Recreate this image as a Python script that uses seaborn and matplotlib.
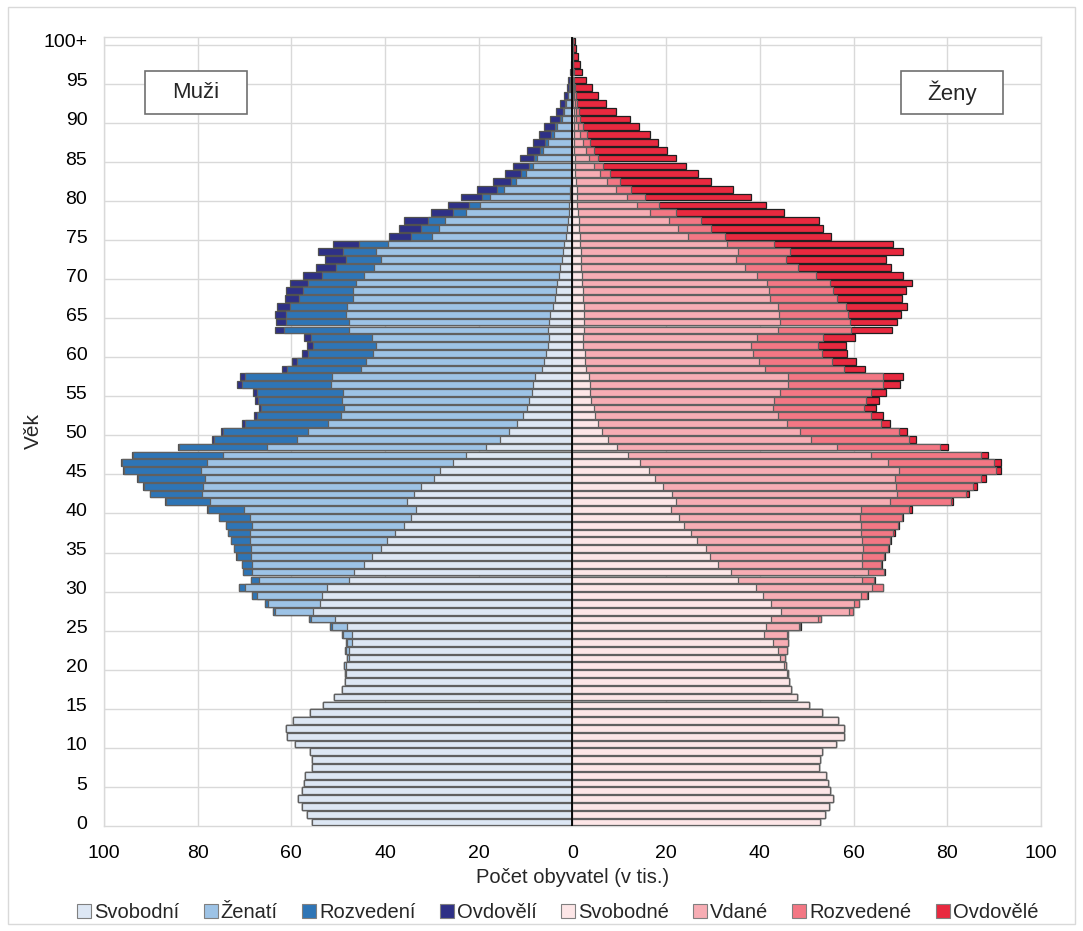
import matplotlib
matplotlib.use("Agg")
import matplotlib.pyplot as plt
from matplotlib.patches import Patch, Rectangle
import seaborn as sns
import numpy as np

sns.set_style("white")
plt.rcParams['font.family'] = ['Liberation Sans', 'DejaVu Sans']

ages = np.arange(101)
age_labels = [str(a) for a in range(0, 100, 5)] + ["100+"]

# muži (v tis.), věk 0..100+
men_svob = [55.7, 56.7, 57.7, 58.5, 57.8, 57.4, 57.0, 55.5, 55.7, 56.0,
            59.2, 60.9, 61.1, 59.7, 56.0, 53.2, 51.0, 49.1, 48.6, 48.4,
            48.4, 47.7, 47.8, 47.0, 47.0, 48.1, 50.7, 55.4, 53.9, 53.4,
            52.5, 47.8, 46.6, 44.5, 42.7, 40.8, 39.5, 37.8, 36.0, 34.4,
            33.5, 35.3, 33.8, 32.3, 29.6, 28.2, 25.5, 22.7, 18.4, 15.4,
            13.5, 11.8, 10.5, 9.7, 9.2, 8.7, 8.4, 8.0, 6.5, 6.0,
            5.6, 5.3, 5.0, 5.2, 5.0, 4.7, 4.2, 3.8, 3.6, 3.3,
            2.8, 2.6, 2.3, 2.1, 1.8, 1.3, 1.1, 0.9, 0.8, 0.7,
            0.6, 0.5, 0.4, 0.3, 0.3, 0.3, 0.25, 0.2, 0.2, 0.15,
            0.15, 0.1, 0.1, 0.05, 0.05, 0.03, 0.02, 0.02, 0.01, 0.01, 0.01]
men_zen = [0] * 18 + [0.05, 0.1,
           0.3, 0.4, 0.6, 1.2, 1.9, 3.3, 5.2, 8.1, 11.0, 14.0,
           17.3, 19.2, 21.7, 23.8, 26.0, 27.9, 29.4, 31.1, 32.5, 34.5,
           36.7, 42.0, 45.2, 46.5, 48.8, 51.0, 52.5, 51.9, 46.9, 43.3,
           42.9, 40.3, 39.0, 39.1, 39.9, 40.3, 43.1, 43.3, 38.6, 38.0,
           37.0, 36.7, 37.8, 42.5, 42.7, 43.6, 43.9, 43.0, 43.2, 43.0,
           41.7, 39.8, 38.6, 39.8, 37.6, 28.7, 27.3, 26.3, 21.9, 19.0,
           16.9, 14.1, 11.6, 9.7, 8.2, 7.2, 6.05, 5.1, 3.8, 3.25,
           2.15, 1.7, 1.2, 0.8, 0.5, 0.35, 0.25, 0.13, 0.07, 0.05, 0.03]
men_rozv = [0] * 21 + [0.05, 0.1, 0.1, 0.2, 0.3, 0.4, 0.5, 0.7, 0.9,
            1.3, 1.7, 2.0, 2.3, 3.0, 3.5, 4.0, 4.6, 5.4, 6.5,
            7.7, 9.5, 11.1, 12.7, 14.3, 16.5, 18.1, 19.1, 18.6, 17.8,
            18.2, 17.9, 17.9, 17.7, 18.0, 18.4, 19.1, 18.6, 15.9, 14.9,
            13.8, 13.4, 13.0, 13.9, 13.4, 12.8, 12.2, 11.6, 10.7, 10.1,
            8.9, 8.0, 7.4, 7.1, 6.2, 4.5, 3.9, 3.6, 2.7, 2.3,
            1.9, 1.5, 1.1, 0.9, 0.8, 0.8, 0.7, 0.6, 0.5, 0.4,
            0.45, 0.3, 0.2, 0.15, 0.1, 0.07, 0.05, 0.03, 0.02, 0.01, 0.01]
men_ovd = [0] * 30 + [0.01, 0.01, 0.02, 0.02, 0.03,
           0.04, 0.05, 0.05, 0.06, 0.07,
           0.1, 0.1, 0.12, 0.15, 0.2, 0.2, 0.3, 0.4, 0.3, 0.4,
           0.5, 0.6, 0.5, 0.5, 0.6, 0.7, 1.0, 1.0, 0.9, 1.0,
           1.3, 1.3, 1.6, 1.9, 2.2, 2.4, 2.7, 3.0, 3.6, 3.9,
           4.1, 4.3, 4.6, 5.3, 5.6, 4.7, 4.7, 5.1, 4.7, 4.5,
           4.5, 4.2, 3.9, 3.6, 3.4, 2.9, 2.8, 2.6, 2.7, 2.2,
           2.0, 1.5, 1.1, 0.8, 0.55, 0.4, 0.28, 0.17, 0.1, 0.08, 0.05]

# ženy (v tis.), věk 0..100+
women_svob = [52.9, 53.9, 54.8, 55.6, 54.9, 54.5, 54.2, 52.7, 52.9, 53.2,
              56.2, 57.9, 58.0, 56.7, 53.2, 50.5, 48.0, 46.6, 46.2, 45.8,
              45.1, 44.3, 43.9, 42.9, 40.9, 41.3, 42.4, 44.6, 42.4, 40.6,
              39.2, 35.3, 33.8, 31.0, 29.4, 28.5, 26.6, 25.2, 23.7, 22.7,
              21.0, 22.0, 21.2, 19.3, 17.7, 16.3, 14.4, 11.8, 9.45, 7.5,
              6.3, 5.5, 4.8, 4.5, 4.05, 3.8, 3.7, 3.5, 2.8, 2.7,
              2.6, 2.35, 2.35, 2.4, 2.4, 2.4, 2.4, 2.2, 2.2, 2.1,
              2.1, 1.85, 1.85, 1.85, 1.7, 1.5, 1.35, 1.35, 1.1, 1.0,
              0.9, 0.9, 0.8, 0.6, 0.5, 0.5, 0.4, 0.4, 0.4, 0.3,
              0.3, 0.3, 0.2, 0.2, 0.15, 0.1, 0.1, 0.05, 0.05, 0.03, 0.03]
women_vd = [0] * 18 + [0.1, 0.2,
            0.5, 1.0, 1.8, 3.0, 4.9, 7.0, 10.1, 14.5, 17.6, 20.9,
            24.8, 26.6, 29.3, 30.9, 32.5, 33.6, 35.2, 36.3, 37.8, 38.6,
            40.5, 45.8, 48.0, 49.7, 51.1, 53.3, 53.0, 51.9, 47.0, 43.4,
            42.2, 40.3, 39.1, 38.3, 39.05, 40.5, 42.3, 42.6, 38.3, 37.2,
            35.9, 35.75, 37.05, 41.4, 41.8, 41.6, 41.5, 39.9, 39.8, 39.4,
            37.3, 34.95, 32.95, 33.55, 31.2, 23.1, 21.1, 19.15, 15.5, 12.7,
            10.7, 8.3, 6.6, 5.2, 4.0, 3.1, 2.4, 1.8, 1.3, 0.8,
            0.55, 0.4, 0.3, 0.2, 0.15, 0.1, 0.05, 0.05, 0.02, 0.02, 0.01]
women_rozv = [0] * 22 + [0.1, 0.1, 0.2, 0.3, 0.5, 0.7, 1.1, 1.4,
              2.2, 2.5, 3.4, 3.9, 4.6, 5.3, 5.9, 7.0, 7.9, 9.0,
              10.4, 12.9, 14.7, 16.4, 18.3, 20.7, 22.6, 23.4, 22.1, 21.0,
              21.1, 20.0, 19.9, 19.5, 19.5, 19.4, 20.2, 20.1, 16.8, 15.6,
              14.7, 14.2, 14.0, 15.6, 15.0, 14.9, 14.5, 14.3, 13.7, 13.5,
              12.5, 11.4, 10.8, 11.0, 10.2, 8.0, 7.2, 6.9, 5.4, 4.7,
              3.8, 3.3, 2.7, 2.3, 2.1, 1.8, 1.7, 1.5, 1.3, 1.1,
              0.85, 0.6, 0.5, 0.4, 0.3, 0.2, 0.15, 0.1, 0.08, 0.05, 0.04]
women_ovd = [0] * 23 + [0.05, 0.1, 0.1, 0.1, 0.1, 0.1, 0.1,
             0.15, 0.15, 0.15, 0.2, 0.2, 0.2, 0.2, 0.3, 0.3, 0.3,
             0.5, 0.5, 0.7, 0.9, 1.1, 1.2, 1.4, 1.5, 1.5, 1.5,
             1.9, 2.0, 2.4, 2.4, 2.9, 3.2, 3.8, 4.3, 4.5, 5.0,
             5.5, 6.0, 6.9, 8.9, 10.0, 11.3, 12.9, 13.9, 15.4, 17.4,
             18.7, 19.7, 21.3, 24.2, 25.4, 22.6, 23.9, 25.3, 23.1, 23.0,
             22.7, 21.7, 19.5, 18.7, 17.7, 16.6, 15.7, 14.6, 13.6, 12.1,
             10.5, 8.0, 6.2, 4.7, 3.5, 2.5, 1.8, 1.3, 0.95, 0.75, 0.45]

men_names = ["Svobodní", "Ženatí", "Rozvedení", "Ovdovělí"]
women_names = ["Svobodné", "Vdané", "Rozvedené", "Ovdovělé"]
men_colors = ["#dde7f4", "#9dc3e6", "#2e75b6", "#2e3086"]
women_colors = ["#fde6e7", "#f7adb4", "#f37784", "#e8293f"]
men_edges = ["#606060", "#606060", "#606060", "#505050"]
women_edges = ["#606060", "#606060", "#606060", "#202020"]

fig = plt.figure(figsize=(10.83, 9.31), dpi=100)
ax = fig.add_axes([0.096, 0.1128, 0.8652, 0.8475])

men_cum = np.cumsum(np.array([men_svob, men_zen, men_rozv, men_ovd]), axis=0)
women_cum = np.cumsum(np.array([women_svob, women_vd, women_rozv, women_ovd]), axis=0)

# stacked bars: outer layer first, inner layers on top
for i in reversed(range(4)):
    sns.barplot(x=-men_cum[i], y=ages, orient="y", native_scale=True,
                color=men_colors[i], saturation=1, edgecolor=men_edges[i],
                linewidth=0.9, width=0.86, errorbar=None, ax=ax, zorder=3)
    sns.barplot(x=women_cum[i], y=ages, orient="y", native_scale=True,
                color=women_colors[i], saturation=1, edgecolor=women_edges[i],
                linewidth=0.9, width=0.86, errorbar=None, ax=ax, zorder=3)

ax.axvline(0, color="black", lw=1.3, zorder=5)

ax.set_xlim(-100, 100)
ax.set_ylim(-0.5, 100.5)
xt = np.arange(-100, 101, 20)
ax.set_xticks(xt)
ax.set_xticklabels([str(abs(v)) for v in xt])
ax.set_yticks(np.arange(0, 101, 5))
ax.set_yticklabels(age_labels)
ax.set_yticks(np.arange(4.5, 100, 5), minor=True)
ax.grid(False)
ax.grid(axis="x", which="major", color="#d9d9d9", lw=1.0, zorder=0)
ax.grid(axis="y", which="minor", color="#d9d9d9", lw=1.0, zorder=0)
ax.tick_params(axis="both", which="both", length=0, labelsize=14, colors="black")
ax.tick_params(axis="x", pad=14)
ax.tick_params(axis="y", pad=12)
for sp in ax.spines.values():
    sp.set_color("#d9d9d9")
    sp.set_linewidth(1.0)

ax.set_xlabel("Počet obyvatel (v tis.)", fontsize=14.5, labelpad=4)
ax.set_ylabel("Věk", fontsize=15, labelpad=0)

# popisky pohlaví
for cx, txt in [(-80.4, "Muži"), (81.1, "Ženy")]:
    ax.add_patch(Rectangle((cx - 10.9, 90.65), 21.8, 5.55, facecolor="white",
                           edgecolor="#707070", lw=1.2, zorder=6))
    ax.text(cx, 93.4, txt, ha="center", va="center", fontsize=16, zorder=7)

handles = [Patch(facecolor=c, edgecolor="#808080", lw=0.8)
           for c in men_colors + women_colors]
fig.legend(handles, men_names + women_names, loc="center",
           bbox_to_anchor=(0.515, 0.0195), ncol=8, frameon=False,
           fontsize=14.5, handlelength=0.7, handleheight=0.7,
           handletextpad=0.15, columnspacing=1.2)

fig.patches.append(Rectangle((0.007, 0.007), 0.986, 0.986, transform=fig.transFigure,
                             fill=False, edgecolor="#d9d9d9", lw=1.0))

fig.savefig("out.png", dpi=100)
